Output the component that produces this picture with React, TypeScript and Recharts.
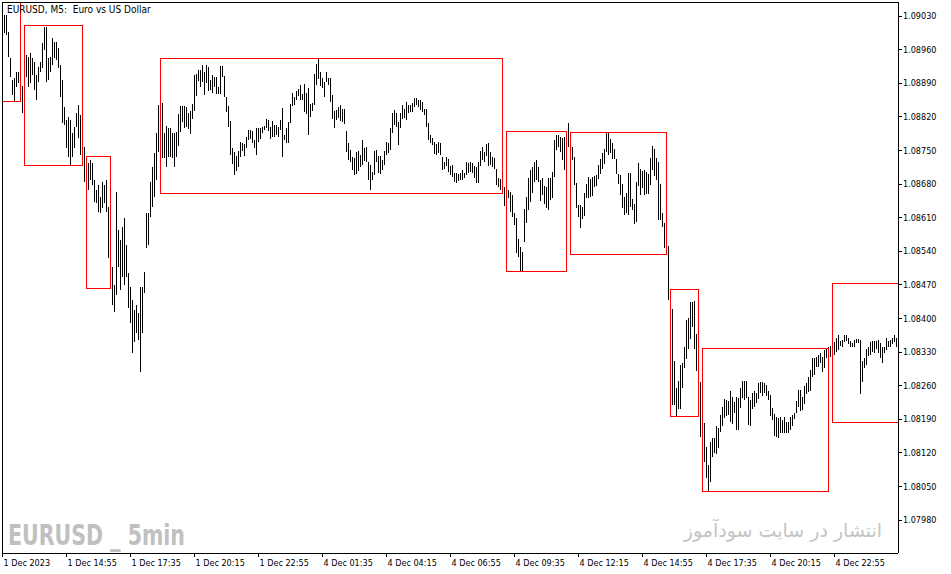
import React from "react";
import { ComposedChart, Bar, XAxis, YAxis, ReferenceArea } from "recharts";

// EURUSD M5 bar extremes, in points (1 point = 0.00001)
const barHighs = [
  109032, 109032, 108996, 108942, 108896, 108900, 108913, 108913, 108900, 108884,
  108938, 108948, 108944, 108953, 108942, 108934, 108907, 108923, 108934, 108973,
  109007, 109007, 108942, 108944, 108984, 108975, 108975, 108963, 108928, 108896,
  108840, 108813, 108819, 108813, 108786, 108798, 108828, 108844, 108823, 108761,
  108757, 108730, 108723, 108730, 108723, 108688, 108667, 108678, 108653, 108684,
  108678, 108688, 108632, 108532, 108507, 108469, 108663, 108584, 108563, 108590,
  108609, 108553, 108494, 108465, 108438, 108417, 108428, 108411, 108465, 108465,
  108496, 108619, 108619, 108684, 108715, 108744, 108786, 108844, 108844, 108848,
  108786, 108800, 108796, 108796, 108786, 108786, 108788, 108825, 108842, 108842,
  108842, 108840, 108828, 108832, 108846, 108907, 108909, 108917, 108917, 108928,
  108913, 108928, 108923, 108896, 108907, 108903, 108903, 108882, 108925, 108925,
  108905, 108861, 108842, 108811, 108755, 108746, 108738, 108748, 108767, 108765,
  108763, 108778, 108792, 108792, 108790, 108771, 108796, 108796, 108796, 108798,
  108800, 108815, 108813, 108798, 108811, 108803, 108803, 108798, 108813, 108838,
  108782, 108796, 108809, 108846, 108869, 108861, 108873, 108878, 108886, 108867,
  108888, 108869, 108880, 108846, 108848, 108909, 108930, 108940, 108913, 108900,
  108892, 108913, 108900, 108900, 108865, 108832, 108834, 108840, 108844, 108836,
  108836, 108790, 108765, 108750, 108736, 108734, 108746, 108748, 108740, 108771,
  108755, 108757, 108725, 108719, 108705, 108748, 108750, 108738, 108738, 108730,
  108748, 108767, 108765, 108796, 108828, 108834, 108828, 108809, 108828, 108844,
  108836, 108850, 108844, 108844, 108848, 108859, 108859, 108855, 108855, 108850,
  108836, 108836, 108807, 108782, 108775, 108767, 108763, 108767, 108765, 108736,
  108725, 108736, 108732, 108717, 108719, 108703, 108703, 108700, 108703, 108709,
  108703, 108725, 108723, 108725, 108723, 108717, 108715, 108725, 108748, 108757,
  108746, 108763, 108765, 108746, 108736, 108734, 108711, 108692, 108690, 108682,
  108673, 108671, 108667, 108663, 108657, 108619, 108609, 108565, 108548, 108538,
  108628, 108653, 108692, 108709, 108715, 108725, 108730, 108715, 108688, 108692,
  108675, 108673, 108692, 108692, 108705, 108771, 108782, 108782, 108778, 108775,
  108778, 108790, 108807, 108782, 108757, 108736, 108682, 108636, 108636, 108632,
  108661, 108680, 108694, 108690, 108694, 108696, 108698, 108719, 108732, 108744,
  108753, 108786, 108786, 108773, 108765, 108753, 108732, 108700, 108698, 108680,
  108653, 108661, 108703, 108703, 108648, 108638, 108684, 108723, 108711, 108707,
  108709, 108705, 108700, 108734, 108759, 108753, 108734, 108725, 108680, 108619,
  108598, 108560, 108550, 108460, 108419, 108311, 108255, 108269, 108303, 108307,
  108340, 108396, 108400, 108434, 108434, 108436, 108367, 108323, 108267, 108230,
  108182, 108132, 108094, 108142, 108151, 108151, 108176, 108171, 108198, 108215,
  108232, 108230, 108228, 108248, 108236, 108226, 108236, 108234, 108255, 108269,
  108269, 108269, 108236, 108230, 108244, 108248, 108244, 108265, 108267, 108267,
  108265, 108261, 108248, 108240, 108213, 108200, 108194, 108192, 108194, 108188,
  108194, 108184, 108184, 108194, 108198, 108203, 108228, 108250, 108250, 108236,
  108259, 108265, 108278, 108292, 108317, 108317, 108319, 108323, 108328, 108319,
  108334, 108338, 108340, 108342, 108348, 108350, 108359, 108365, 108353, 108355,
  108365, 108365, 108359, 108353, 108348, 108355, 108357, 108357, 108355, 108311,
  108317, 108336, 108340, 108350, 108353, 108353, 108353, 108355, 108348, 108340,
  108340, 108359, 108353, 108355, 108359, 108365, 108359,
];

const barLows = [
  108994, 108990, 108944, 108903, 108865, 108850, 108882, 108890, 108852, 108828,
  108880, 108903, 108882, 108890, 108907, 108875, 108855, 108892, 108913, 108921,
  108959, 108892, 108896, 108913, 108928, 108942, 108938, 108921, 108861, 108807,
  108803, 108755, 108736, 108719, 108736, 108755, 108798, 108775, 108740, 108730,
  108684, 108667, 108667, 108688, 108678, 108642, 108640, 108621, 108619, 108630,
  108640, 108621, 108525, 108463, 108428, 108413, 108448, 108507, 108459, 108486,
  108469, 108486, 108421, 108390, 108328, 108350, 108369, 108355, 108288, 108369,
  108453, 108546, 108553, 108611, 108632, 108653, 108688, 108746, 108771, 108734,
  108734, 108715, 108736, 108736, 108734, 108715, 108736, 108759, 108788, 108809,
  108796, 108798, 108794, 108784, 108815, 108832, 108863, 108894, 108882, 108892,
  108865, 108890, 108873, 108875, 108869, 108882, 108867, 108867, 108867, 108903,
  108861, 108830, 108798, 108740, 108721, 108698, 108707, 108715, 108736, 108748,
  108738, 108755, 108771, 108773, 108765, 108755, 108740, 108767, 108773, 108786,
  108792, 108796, 108790, 108773, 108778, 108778, 108782, 108778, 108792, 108736,
  108771, 108765, 108765, 108807, 108842, 108844, 108855, 108863, 108855, 108855,
  108830, 108825, 108782, 108819, 108832, 108844, 108886, 108898, 108884, 108880,
  108861, 108892, 108886, 108850, 108815, 108796, 108813, 108817, 108811, 108809,
  108805, 108746, 108730, 108725, 108709, 108698, 108700, 108707, 108715, 108719,
  108728, 108725, 108688, 108667, 108688, 108698, 108725, 108703, 108700, 108709,
  108719, 108740, 108744, 108750, 108786, 108803, 108798, 108761, 108796, 108815,
  108817, 108813, 108828, 108830, 108830, 108840, 108844, 108840, 108834, 108830,
  108823, 108798, 108771, 108765, 108761, 108742, 108740, 108744, 108740, 108709,
  108711, 108717, 108705, 108698, 108694, 108684, 108682, 108686, 108688, 108688,
  108692, 108698, 108703, 108705, 108703, 108692, 108682, 108682, 108717, 108730,
  108725, 108738, 108717, 108719, 108715, 108711, 108678, 108673, 108667, 108660,
  108634, 108646, 108650, 108621, 108611, 108594, 108536, 108528, 108496, 108496,
  108560, 108598, 108626, 108642, 108661, 108684, 108688, 108684, 108644, 108657,
  108638, 108630, 108626, 108646, 108650, 108694, 108750, 108757, 108746, 108730,
  108709, 108771, 108757, 108746, 108730, 108678, 108630, 108611, 108588, 108607,
  108613, 108650, 108650, 108653, 108655, 108673, 108675, 108690, 108700, 108711,
  108721, 108746, 108740, 108744, 108732, 108732, 108700, 108680, 108657, 108630,
  108615, 108619, 108615, 108632, 108626, 108596, 108600, 108675, 108657, 108671,
  108657, 108659, 108659, 108678, 108709, 108696, 108688, 108605, 108605, 108590,
  108546, 108533, 108438, 108417, 108219, 108219, 108196, 108211, 108211, 108255,
  108296, 108315, 108336, 108357, 108382, 108336, 108290, 108271, 108153, 108126,
  108101, 108067, 108040, 108059, 108111, 108119, 108117, 108130, 108163, 108176,
  108192, 108196, 108198, 108184, 108180, 108203, 108167, 108167, 108213, 108234,
  108230, 108234, 108178, 108176, 108211, 108215, 108223, 108232, 108244, 108238,
  108244, 108238, 108230, 108196, 108188, 108155, 108153, 108151, 108161, 108161,
  108161, 108161, 108161, 108167, 108176, 108190, 108203, 108215, 108207, 108209,
  108221, 108242, 108246, 108248, 108278, 108282, 108298, 108298, 108307, 108288,
  108296, 108317, 108319, 108319, 108330, 108323, 108330, 108334, 108342, 108340,
  108350, 108353, 108346, 108340, 108340, 108340, 108348, 108348, 108242, 108267,
  108296, 108303, 108321, 108323, 108330, 108328, 108336, 108328, 108317, 108307,
  108328, 108334, 108340, 108340, 108346, 108350, 108340,
];

const timeLabels = [
  "1 Dec 2023", "1 Dec 14:55", "1 Dec 17:35", "1 Dec 20:15", "1 Dec 22:55",
  "4 Dec 01:35", "4 Dec 04:15", "4 Dec 06:55", "4 Dec 09:35", "4 Dec 12:15",
  "4 Dec 14:55", "4 Dec 17:35", "4 Dec 20:15", "4 Dec 22:55",
];
const labelBars = [-1, 31, 63, 95, 127, 159, 191, 223, 255, 287, 319, 351, 383, 415];

const priceTicks = [
  1.0798, 1.0805, 1.0812, 1.0819, 1.0826, 1.0833, 1.084, 1.0847,
  1.0854, 1.0861, 1.0868, 1.0875, 1.0882, 1.0889, 1.0896, 1.0903,
];

// red range boxes (bar index / price)
const boxFrom = [-20, 10, 41, 78, 251, 283, 333, 349, 414];
const boxTo = [8, 39, 53, 249, 281, 331, 347, 412, 500];
const boxTop = [1.0915, 1.0901, 1.08737, 1.08942, 1.08789, 1.08787, 1.0846, 1.08337, 1.08473];
const boxBottom = [1.08852, 1.08719, 1.08462, 1.0866, 1.08498, 1.08533, 1.08196, 1.08039, 1.08183];

const FONT = "'DejaVu Sans Condensed', 'DejaVu Sans', sans-serif";

const data = barHighs.map((h, i) => ({
  bar: i,
  range: [barLows[i] / 1e5, h / 1e5],
}));

const BarStick = (p: any) => {
  const h = Math.max(Math.abs(p.height || 0), 1);
  const y = p.height < 0 ? p.y + p.height : p.y;
  return (
    <rect x={p.x} y={y} width={p.width} height={h} fill="#000" shapeRendering="crispEdges" />
  );
};

const TimeTick = (p: any) => {
  const idx = labelBars.indexOf(p.payload.value);
  return (
    <text x={p.x + 1} y={p.y + 6.5} fontSize={9} fontFamily={FONT} fill="#000" textAnchor="start">
      {timeLabels[idx]}
    </text>
  );
};

export default function App() {
  return (
    <div
      style={{
        position: "fixed",
        left: 0,
        top: 0,
        width: 951,
        height: 574,
        background: "#fff",
        overflow: "hidden",
      }}
    >
      <ComposedChart
        width={951}
        height={574}
        data={data}
        margin={{ top: 2, right: 0, bottom: 0, left: 2 }}
      >
        <XAxis
          dataKey="bar"
          type="number"
          domain={[-1.25, 446.75]}
          allowDataOverflow
          ticks={labelBars}
          interval={0}
          height={21}
          tickSize={4}
          tickMargin={2}
          axisLine={{ stroke: "#000", shapeRendering: "crispEdges" }}
          tickLine={{ stroke: "#000", shapeRendering: "crispEdges" }}
          tick={<TimeTick />}
        />
        <YAxis
          orientation="right"
          type="number"
          domain={[1.079113, 1.090592]}
          allowDataOverflow
          ticks={priceTicks}
          interval={0}
          width={53}
          tickSize={4}
          tickMargin={1}
          tickFormatter={(v: number) => v.toFixed(5)}
          axisLine={{ stroke: "#000", shapeRendering: "crispEdges" }}
          tickLine={{ stroke: "#000", shapeRendering: "crispEdges" }}
          tick={{ fontSize: 9, fill: "#000", fontFamily: FONT }}
        />
        <Bar
          dataKey="range"
          barSize={1}
          isAnimationActive={false}
          shape={BarStick}
        />
        {boxFrom.map((f, k) => (
          <ReferenceArea
            key={k}
            x1={f}
            x2={boxTo[k]}
            y1={boxBottom[k]}
            y2={boxTop[k]}
            fill="none"
            fillOpacity={0}
            stroke="#ff0000"
            strokeWidth={1}
            ifOverflow="hidden"
            shapeRendering="crispEdges"
            zIndex={1500}
          />
        ))}
      </ComposedChart>
      <div
        style={{
          position: "absolute",
          left: 2,
          top: 2,
          width: 896,
          height: 551,
          borderLeft: "1px solid #000",
          borderTop: "1px solid #000",
          boxSizing: "border-box",
          pointerEvents: "none",
        }}
      />
      <svg
        width={951}
        height={574}
        style={{ position: "absolute", left: 0, top: 0, pointerEvents: "none" }}
      >
        <text x={7} y={13} fontSize={10} fontFamily={FONT} fill="#000">
          EURUSD, M5:{"\u00a0\u00a0"}Euro vs US Dollar
        </text>
        <text
          x={8}
          y={545}
          fontSize={29}
          fontWeight="bold"
          fontFamily="'Liberation Sans Narrow', 'DejaVu Sans Condensed', sans-serif"
          fill="#c0c0c0"
          textLength={177}
          lengthAdjust="spacingAndGlyphs"
        >
          EURUSD _ 5min
        </text>
        <text
          x={783}
          y={537}
          fontSize={19}
          fontFamily="'DejaVu Sans', sans-serif"
          fill="#c4c4c4"
          textAnchor="middle"
          direction="rtl"
        >
          انتشار در سایت سودآموز
        </text>
      </svg>
    </div>
  );
}
